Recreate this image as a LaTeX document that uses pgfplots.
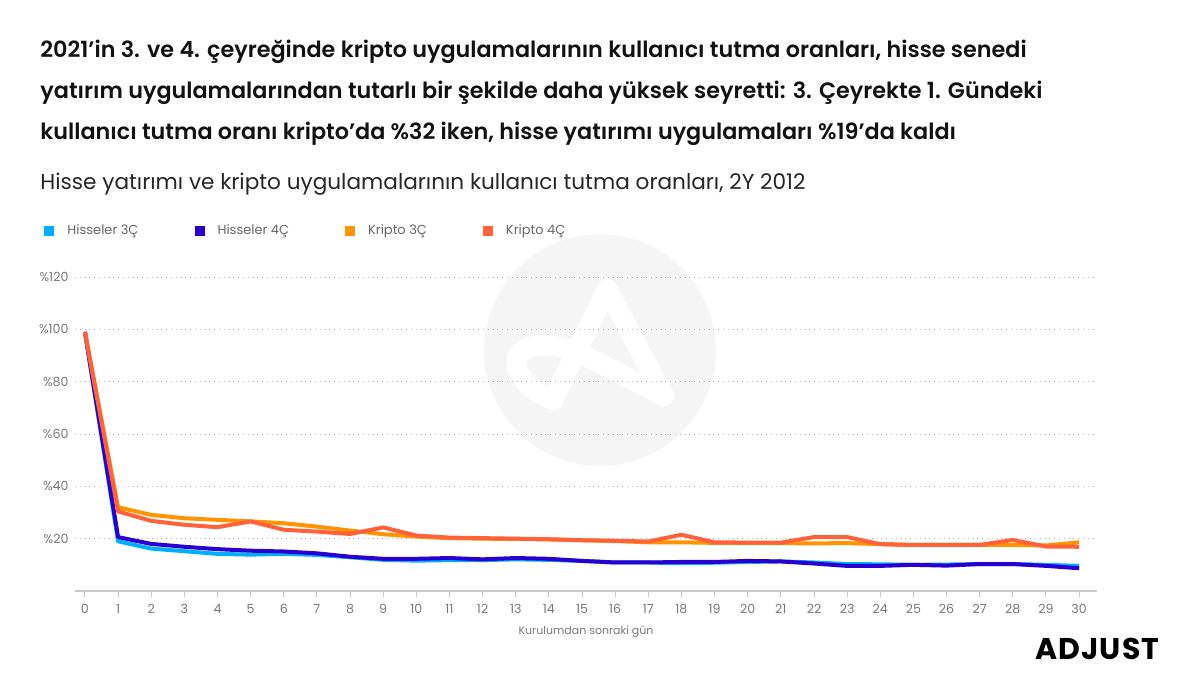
\documentclass[border=0pt]{standalone}
\usepackage{pgfplots}
\pgfplotsset{compat=1.18}
\usepackage{fontspec}
\setmainfont{Poppins}[BoldFont={* SemiBold}]
\newfontfamily\logofont[LetterSpace=4]{Poppins}
\definecolor{cH3}{HTML}{00AEFF}
\definecolor{cH4}{HTML}{2A00D2}
\definecolor{cK3}{HTML}{FF9300}
\definecolor{cK4}{HTML}{FF6238}
\definecolor{txt}{HTML}{111111}
\definecolor{tick}{HTML}{777777}
\definecolor{gridc}{HTML}{C8C8C8}
\begin{document}
\begin{tikzpicture}[x=0.5pt,y=0.5pt]
\path[use as bounding box] (0,0) rectangle (1200,697);
% watermark
\fill[black!4] (600,347) circle (116);
\draw[white,line width=10pt,line cap=round,line join=round]
  (553,297) -- (607,408) -- (664,301) -- (585,341)
  .. controls (545,360) and (508,352) .. (518,327)
  .. controls (524,312) and (540,302) .. (553,297);
% titles
\node[anchor=base west,inner sep=0,text=txt,font=\fontsize{11.15}{13}\selectfont\bfseries] at (40,639) {2021’in 3. ve 4. çeyreğinde kripto uygulamalarının kullanıcı tutma oranları, hisse senedi};
\node[anchor=base west,inner sep=0,text=txt,font=\fontsize{11.15}{13}\selectfont\bfseries] at (40,598) {yatırım uygulamalarından tutarlı bir şekilde daha yüksek seyretti: 3. Çeyrekte 1. Gündeki};
\node[anchor=base west,inner sep=0,text=txt,font=\fontsize{11.15}{13}\selectfont\bfseries] at (40,557) {kullanıcı tutma oranı kripto’da \%32 iken, hisse yatırımı uygulamaları \%19’da kaldı};
\node[anchor=base west,inner sep=0,text=black!85,font=\fontsize{10.8}{12}\selectfont] at (40,507) {Hisse yatırımı ve kripto uygulamalarının kullanıcı tutma oranları, 2Y 2012};
% logo
\node[anchor=base east,inner sep=0,font=\fontsize{15}{18}\selectfont\logofont\bfseries] at (1160,38) {ADJUST};
\begin{axis}[
  at={(37.5pt,53pt)}, anchor=south west,
  scale only axis, width=511pt, height=157pt,
  xmin=-0.3, xmax=30.54, ymin=0, ymax=120,
  axis x line=bottom, axis y line*=left,
  x axis line style={draw=gridc,line width=0.6pt,-},
  y axis line style={draw=none},
  xtick={0,...,30}, ytick={20,40,60,80,100,120},
  yticklabels={\%20,\%40,\%60,\%80,\%100,\%120},
  ymajorgrids, grid style={dotted,draw=black!30,line width=0.5pt},
  tick align=outside,
  major tick length=2.75pt,
  x tick style={draw=gridc,line width=0.5pt},
  y tick style={draw=none},
  /pgf/number format/assume math mode=true,
  tick label style={font=\fontsize{6.3}{7.5}\selectfont, text=tick},
  xticklabel style={yshift=-0.5pt},
  yticklabel style={xshift=3pt},
  xlabel={Kurulumdan sonraki gün},
  xlabel style={font=\fontsize{5.5}{7}\selectfont, text=tick, yshift=1pt},
  legend columns=4,
  legend style={at={(-0.0303,1.146)}, anchor=west, draw=none, fill=none,
    font=\fontsize{6.5}{8}\selectfont, text=black!60,
    /tikz/every even column/.append style={column sep=26pt},
    /tikz/every odd column/.append style={column sep=4.5pt},
    inner sep=0pt},
  legend image code/.code={\fill[#1,draw=none] (0pt,-2.5pt) rectangle (5pt,2.5pt);},
  every axis plot/.append style={line width=2pt, line join=round, mark=none},
  clip=false,
]
\addplot[color=cH3] coordinates {(0,99)(1,19)(2,16.2)(3,15.2)(4,14.2)(5,13.9)(6,14.2)(7,13.8)(8,12.9)(9,11.9)(10,11.6)(11,11.8)(12,11.8)(13,12.1)(14,11.9)(15,11.5)(16,10.9)(17,10.9)(18,10.6)(19,10.8)(20,11.1)(21,11.3)(22,10.9)(23,10.3)(24,10.2)(25,10.0)(26,10.1)(27,10.3)(28,10.3)(29,10.0)(30,9.6)};
\addlegendentry{Hisseler 3Ç}
\addplot[color=cH4] coordinates {(0,99)(1,20.6)(2,18.0)(3,16.9)(4,16.0)(5,15.4)(6,15.1)(7,14.4)(8,13.1)(9,12.3)(10,12.3)(11,12.6)(12,12.1)(13,12.6)(14,12.3)(15,11.5)(16,10.9)(17,10.9)(18,11.1)(19,11.1)(20,11.5)(21,11.3)(22,10.5)(23,9.6)(24,9.6)(25,10.0)(26,9.7)(27,10.3)(28,10.3)(29,9.6)(30,8.7)};
\addlegendentry{Hisseler 4Ç}
\addplot[color=cK3] coordinates {(0,99)(1,32)(2,29.1)(3,27.8)(4,27.2)(5,26.6)(6,25.9)(7,24.6)(8,23.1)(9,21.7)(10,20.8)(11,20.2)(12,20.0)(13,19.9)(14,19.7)(15,19.4)(16,19.1)(17,18.6)(18,18.6)(19,18.4)(20,18.4)(21,18.3)(22,18.2)(23,18.3)(24,17.9)(25,17.6)(26,17.6)(27,17.6)(28,17.6)(29,17.4)(30,18.6)};
\addlegendentry{Kripto 3Ç}
\addplot[color=cK4] coordinates {(0,99)(1,30.4)(2,26.8)(3,25.3)(4,24.4)(5,26.6)(6,23.4)(7,22.7)(8,21.8)(9,24.3)(10,21.2)(11,20.4)(12,20.2)(13,20.0)(14,19.8)(15,19.4)(16,19.2)(17,18.9)(18,21.5)(19,18.6)(20,18.5)(21,18.5)(22,20.6)(23,20.6)(24,17.9)(25,17.6)(26,17.6)(27,17.6)(28,19.5)(29,17.0)(30,16.9)};
\addlegendentry{Kripto 4Ç}
\end{axis}
\end{tikzpicture}
\end{document}
